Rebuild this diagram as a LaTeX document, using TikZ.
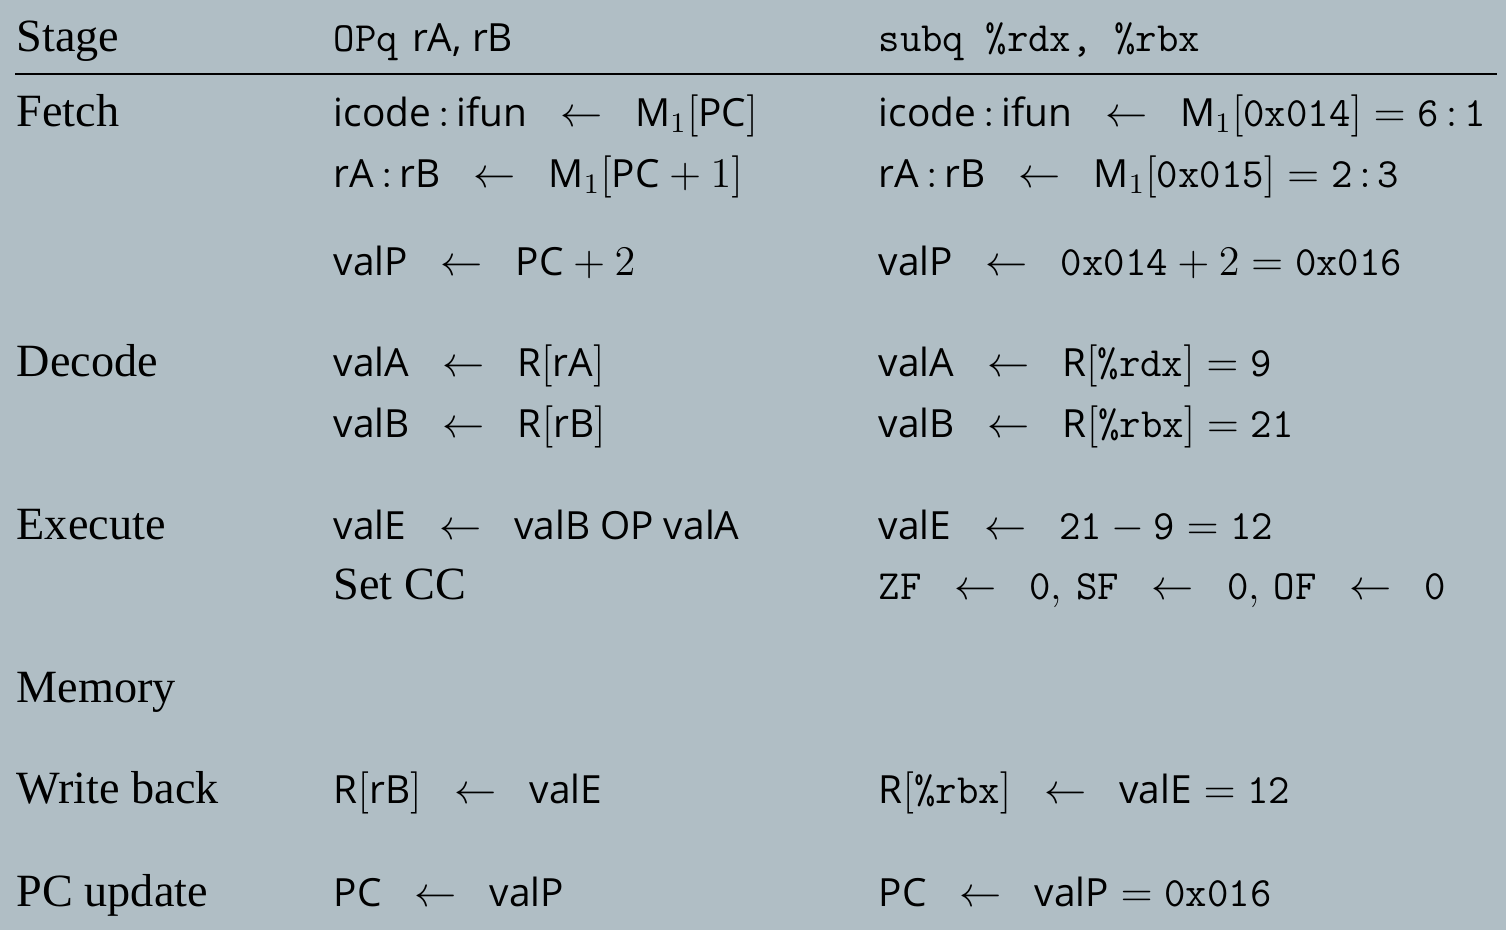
\RequirePackage{fix-cm}
\documentclass[tikz,border=0pt]{standalone}
\usepackage{amsmath}
\usepackage{fontspec}
\usepackage{tikz}
\setsansfont{Open Sans}[Scale=0.92]
\setmonofont{Latin Modern Mono}[Scale=0.985]
\newfontfamily\stagefont{Liberation Serif}[Scale=1.095]
\definecolor{slatebg}{HTML}{B0BEC5}
\newcommand{\basesize}{\fontsize{12}{14}\selectfont}
\newcommand{\getsarr}{\hspace{0.78em}$\leftarrow$\hspace{0.78em}}

\begin{document}
\begin{tikzpicture}[x=0.01cm, y=-0.01cm,
	stage/.style={anchor=base west, inner sep=0pt, font=\basesize\stagefont},
	seq/.style={anchor=base west, inner sep=0pt, font=\basesize}]

	\path[use as bounding box, fill=slatebg] (0,0) rectangle (1506,930);

	\node[stage] (hdStage) at (16, 51)   {Stage};
	\node[seq]   (hdOp)    at (333, 51)  {\texttt{OPq} \textsf{rA, rB}};
	\node[seq]   (hdSub)   at (878, 51)  {\texttt{subq \%rdx, \%rbx}};

	\coordinate (ruleL) at (15, 74);
	\coordinate (ruleR) at (1497, 74);
	\draw[line width=0.85pt] (ruleL) -- (ruleR);

	\node[stage] (fetch)  at (16, 126)  {Fetch};
	\node[seq]   (fetchA) at (333, 126) {\textsf{icode}\,:\,\textsf{ifun}\getsarr\textsf{M}$_1[\textsf{PC}]$};
	\node[seq]   (fetchB) at (333, 187) {\textsf{rA}\,:\,\textsf{rB}\getsarr\textsf{M}$_1[\textsf{PC}+1]$};
	\node[seq]   (fetchC) at (333, 275) {\textsf{valP}\getsarr$\textsf{PC}+2$};
	\node[seq]   (fetchD) at (878, 126) {\textsf{icode}\,:\,\textsf{ifun}\getsarr\textsf{M}$_1[\texttt{0x014}]=\texttt{6}\,{:}\,\texttt{1}$};
	\node[seq]   (fetchE) at (878, 187) {\textsf{rA}\,:\,\textsf{rB}\getsarr\textsf{M}$_1[\texttt{0x015}]=\texttt{2}\,{:}\,\texttt{3}$};
	\node[seq]   (fetchF) at (878, 275) {\textsf{valP}\getsarr$\texttt{0x014}+2=\texttt{0x016}$};

	\node[stage] (decode)  at (16, 376)  {Decode};
	\node[seq]   (decodeA) at (333, 376) {\textsf{valA}\getsarr\textsf{R}$[\textsf{rA}]$};
	\node[seq]   (decodeB) at (333, 437) {\textsf{valB}\getsarr\textsf{R}$[\textsf{rB}]$};
	\node[seq]   (decodeC) at (878, 376) {\textsf{valA}\getsarr\textsf{R}$[\texttt{\%rdx}]=\texttt{9}$};
	\node[seq]   (decodeD) at (878, 437) {\textsf{valB}\getsarr\textsf{R}$[\texttt{\%rbx}]=\texttt{21}$};

	\node[stage] (execute)  at (16, 539)  {Execute};
	\node[seq]   (executeA) at (333, 539) {\textsf{valE}\getsarr\textsf{valB OP valA}};
	\node[stage] (executeB) at (333, 599) {Set CC};
	\node[seq]   (executeC) at (878, 539) {\textsf{valE}\getsarr$\texttt{21}-\texttt{9}=\texttt{12}$};
	\node[seq]   (executeD) at (878, 599) {\texttt{ZF}\getsarr\texttt{0}, \texttt{SF}\getsarr\texttt{0}, \texttt{OF}\getsarr\texttt{0}};

	\node[stage] (memory) at (16, 702) {Memory};

	\node[stage] (writeback)  at (16, 803)  {Write back};
	\node[seq]   (writebackA) at (333, 803) {\textsf{R}$[\textsf{rB}]$\getsarr\textsf{valE}};
	\node[seq]   (writebackB) at (878, 803) {\textsf{R}$[\texttt{\%rbx}]$\getsarr$\textsf{valE}=\texttt{12}$};

	\node[stage] (pcupdate)  at (16, 906)  {PC update};
	\node[seq]   (pcupdateA) at (333, 906) {\textsf{PC}\getsarr\textsf{valP}};
	\node[seq]   (pcupdateB) at (878, 906) {\textsf{PC}\getsarr$\textsf{valP}=\texttt{0x016}$};

\end{tikzpicture}
\end{document}
